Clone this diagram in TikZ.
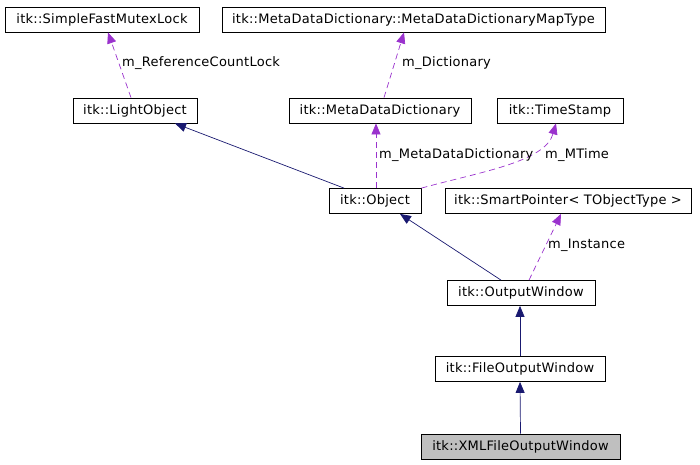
\documentclass[tikz,border=0pt]{standalone}
\usepackage{fontspec}
\setmainfont{DejaVu Sans}[LetterSpace=2]
\usetikzlibrary{arrows.meta}
\definecolor{inh}{HTML}{191970}
\definecolor{use}{HTML}{9A32CD}
\definecolor{cur}{HTML}{BFBFBF}
\begin{document}
\begin{tikzpicture}[x=1pt,y=-1pt,
  cls/.style={draw=black,line width=0.8pt,inner sep=0pt,minimum height=25pt,font=\fontsize{13}{15}\selectfont},
  inhedge/.style={draw=inh,line width=0.7pt,-{Triangle[length=11pt,width=9pt]}},
  useedge/.style={draw=use,line width=0.7pt,dash pattern=on 6pt off 4pt,-{Triangle[length=11pt,width=9pt]}},
  lbl/.style={anchor=west,inner sep=0pt,font=\fontsize{13}{15}\selectfont}]
\useasboundingbox (0,0) rectangle (700,464);
\node[cls,minimum width=194pt] (sfml) at (102,19.5) {itk::SimpleFastMutexLock};
\node[cls,minimum width=383pt] (mapt) at (413.5,19.5) {itk::MetaDataDictionary::MetaDataDictionaryMapType};
\node[cls,minimum width=124pt] (lo) at (135,110.5) {itk::LightObject};
\node[cls,minimum width=182pt] (mdd) at (380,110.5) {itk::MetaDataDictionary};
\node[cls,minimum width=126pt] (ts) at (560,110.5) {itk::TimeStamp};
\node[cls,minimum width=92pt] (obj) at (375,201) {itk::Object};
\node[cls,minimum width=246pt] (sp) at (568,201) {itk::SmartPointer< TObjectType >};
\node[cls,minimum width=148pt] (ow) at (521,293) {itk::OutputWindow};
\node[cls,minimum width=170pt] (fow) at (520,369) {itk::FileOutputWindow};
\node[cls,minimum width=199pt,fill=cur] (xml) at (520.5,446.5) {itk::XMLFileOutputWindow};

\draw[useedge] ([xshift=-4pt]lo.north) -- ([xshift=6pt]sfml.south);
\draw[useedge] ([xshift=4pt]mdd.north) -- ([xshift=-9.5pt]mapt.south);
\draw[inhedge] ([xshift=-31pt]obj.north) -- ([xshift=40pt]lo.south);
\draw[useedge] ([xshift=1pt]obj.north) -- ([xshift=-4pt]mdd.south);
\draw[useedge] (obj.north east) .. controls (480,172) and (545,162) .. ([xshift=-4pt]ts.south);
\draw[inhedge] ([xshift=-20pt]ow.north) -- ([xshift=25pt]obj.south);
\draw[useedge] ([xshift=8pt]ow.north) -- ([xshift=-7pt]sp.south);
\draw[inhedge] (fow.north) -- ([xshift=-1pt]ow.south);
\draw[inhedge] (xml.north) -- (fow.south);

\node[lbl] (l1) at (122,63) {m\_ReferenceCountLock};
\node[lbl] (l2) at (402,63) {m\_Dictionary};
\node[lbl] (l3) at (379,155) {m\_MetaDataDictionary};
\node[lbl] (l4) at (545,155) {m\_MTime};
\node[lbl] (l5) at (548,245) {m\_Instance};
\end{tikzpicture}
\end{document}
